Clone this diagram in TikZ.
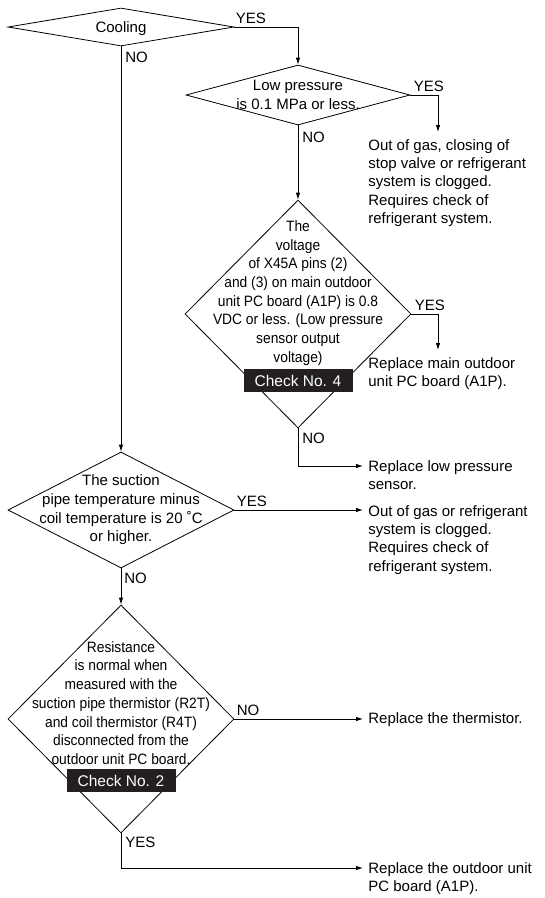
\documentclass[tikz,border=0pt]{standalone}
\usepackage{fontspec}
\setmainfont{Liberation Sans}
\newfontfamily\narrowsf[FakeStretch=0.92]{Liberation Sans}
\usetikzlibrary{arrows.meta,positioning,shapes.geometric}
\definecolor{checkblack}{RGB}{35,31,32}

\begin{document}
\begin{tikzpicture}[x=1pt, y=-1pt, >={Latex[length=7pt,width=4.5pt]}, line width=0.8pt,
  decision/.style={draw, diamond, inner sep=0pt, minimum width=226pt},
  dtext/.style={align=center, inner sep=0pt, font=\fontsize{15}{18.7}\selectfont},
  narrowtext/.style={font=\narrowsf\fontsize{15}{18.7}\selectfont},
  result/.style={anchor=north west, align=left, inner sep=0pt, font=\fontsize{15}{18.3}\selectfont},
  lbl/.style={inner sep=0pt, font=\fontsize{15}{18}\selectfont},
  checkbox/.style={fill=checkblack, text=white, minimum width=109pt, minimum height=23pt, inner sep=0pt, font=\fontsize{15.5}{18}\selectfont}]
  \useasboundingbox (0,0) rectangle (545,898);

  % decisions
  \node[decision, minimum height=38pt] (cool) at (121,27) {};
  \node[dtext] (cooltxt) at ([yshift=-2pt]cool.center) {Cooling};
  \node[decision, minimum width=224pt, minimum height=60pt] (lowp) at (298,95) {};
  \node[dtext] (lowptxt) at (lowp.center) {Low pressure\\is 0.1 MPa or less.};
  \node[decision, minimum height=228pt] (volt) at (298,314) {};
  \node[dtext, narrowtext] (volttxt) at ([yshift=21pt]volt.center) {The\\voltage\\of X45A pins (2)\\and (3) on main outdoor\\unit PC board (A1P) is 0.8\\VDC or less. (Low pressure\\sensor output\\voltage)};
  \node[checkbox, above=36pt of volt.south] (chk4) {Check No. 4};
  \node[decision, minimum height=116pt] (temp) at (121,510) {};
  \node[dtext] (temptxt) at (temp.center) {The suction\\pipe temperature minus\\coil temperature is 20 ˚C\\or higher.};
  \node[decision, minimum height=228pt] (therm) at (121,719) {};
  \node[dtext, narrowtext] (thermtxt) at ([yshift=16pt]therm.center) {Resistance\\is normal when\\measured with the\\suction pipe thermistor (R2T)\\and coil thermistor (R4T)\\disconnected from the\\outdoor unit PC board.};
  \node[checkbox, above=41pt of therm.south] (chk2) {Check No. 2};

  % results
  \node[result] (gas1) at (368,139) {Out of gas, closing of\\stop valve or refrigerant\\system is clogged.\\Requires check of\\refrigerant system.};
  \node[result] (board) at (368,357) {Replace main outdoor\\unit PC board (A1P).};
  \node[result] (sensor) at (368,460) {Replace low pressure\\sensor.};
  \node[result] (gas2) at (368,505) {Out of gas or refrigerant\\system is clogged.\\Requires check of\\refrigerant system.};
  \node[result] (newtherm) at (368,712) {Replace the thermistor.};
  \node[result] (newpcb) at (368,862) {Replace the outdoor unit\\PC board (A1P).};

  \coordinate (gas1in) at ([xshift=70pt, yshift=7pt]gas1.north west);
  \coordinate (boardin) at ([xshift=70pt, yshift=7pt]board.north west);
  \coordinate (sensorin) at ([xshift=-5pt, yshift=-6pt]sensor.north west);
  \coordinate (gas2in) at ([xshift=-5pt]gas2.north west);
  \coordinate (newthermin) at ([xshift=-5pt]newtherm.north west);
  \coordinate (newpcbin) at ([xshift=-5pt, yshift=-6pt]newpcb.north west);

  % connectors
  \draw[->] (cool.east) -| node[lbl, pos=0, anchor=south west, xshift=1pt, yshift=3pt] (yes1) {YES} (lowp.north);
  \draw[->] (cool.south) -- node[lbl, pos=0, anchor=north west, xshift=4pt, yshift=-5pt] (no1) {NO} (temp.north);
  \draw[->] (lowp.east) -| node[lbl, pos=0, anchor=south west, xshift=3pt, yshift=3pt] (yes2) {YES} (gas1in);
  \draw[->] (lowp.south) -- node[lbl, pos=0, anchor=north west, xshift=4pt, yshift=-6pt] (no2) {NO} (volt.north);
  \draw[->] (volt.east) -| node[lbl, pos=0, anchor=south west, xshift=3pt, yshift=3pt] (yes3) {YES} (boardin);
  \draw[->] (volt.south) |- node[lbl, pos=0, anchor=north west, xshift=4pt, yshift=-4pt] (no3) {NO} (sensorin);
  \draw[->] (temp.east) -- node[lbl, pos=0, anchor=south west, xshift=2pt, yshift=3pt] (yes4) {YES} (temp.east -| gas2in);
  \draw[->] (temp.south) -- node[lbl, pos=0, anchor=north west, xshift=3pt, yshift=-4pt] (no4) {NO} (therm.north);
  \draw[->] (therm.east) -- node[lbl, pos=0, anchor=south west, xshift=2pt, yshift=3pt] (no5) {NO} (therm.east -| newthermin);
  \draw[->] (therm.south) |- node[lbl, pos=0, anchor=north west, xshift=4pt, yshift=-3pt] (yes5) {YES} (newpcbin);
\end{tikzpicture}
\end{document}
